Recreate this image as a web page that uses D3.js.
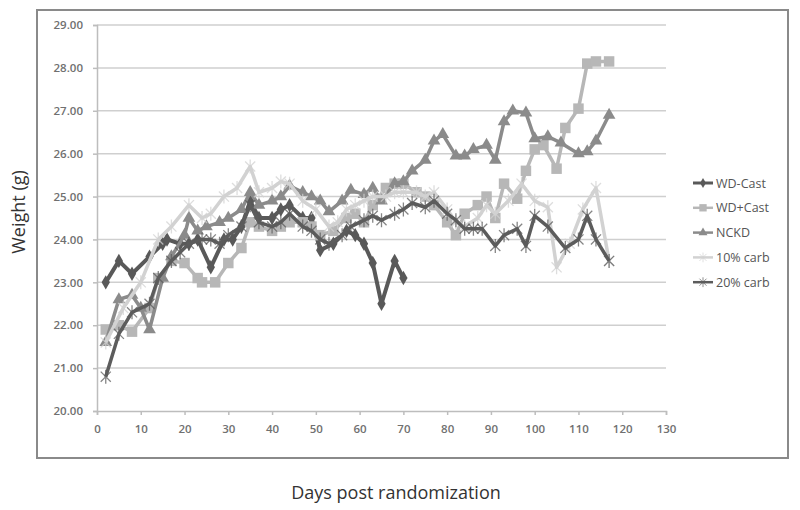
<!DOCTYPE html>
<html>
<head>
<meta charset="utf-8">
<script src="https://cdn.jsdelivr.net/npm/d3@7"></script>
<style>
  body { margin: 0; background: #fff; }
  text { font-family: "Open Sans", "DejaVu Sans", sans-serif; }
</style>
</head>
<body>
<svg width="800" height="510"></svg>
<script>
// series names
const seriesNames = ["WD-Cast", "WD+Cast", "NCKD", "10% carb", "20% carb"];

// days and weights (g) per series
const wdCastDays = [2, 5, 8, 12, 15, 16, 19, 21, 23, 26, 29, 31, 33, 35, 37, 40, 42, 44, 47, 49, 51, 54, 57, 59, 61, 63, 65, 68, 70];
const wdCastVals = [23.0, 23.5, 23.2, 23.6, 23.9, 24.0, 23.9, 23.9, 24.0, 23.35, 24.0, 24.0, 24.3, 24.9, 24.5, 24.5, 24.7, 24.8, 24.5, 24.5, 23.75, 23.9, 24.2, 24.1, 23.9, 23.45, 22.5, 23.5, 23.1];

const wdPlusDays = [2, 5, 8, 12, 14, 17, 20, 23, 24, 27, 30, 33, 35, 37, 40, 42, 44, 47, 49, 51, 54, 57, 59, 61, 63, 66, 68, 70, 73, 75, 77, 80, 82, 84, 87, 89, 91, 93, 96, 98, 100, 102, 105, 107, 110, 112, 114, 117];
const wdPlusVals = [21.9, 22.0, 21.85, 22.4, 23.1, 23.5, 23.45, 23.1, 23.0, 23.0, 23.45, 23.8, 24.4, 24.3, 24.2, 24.3, 24.4, 24.4, 24.3, 24.1, 24.2, 24.5, 24.6, 24.4, 24.8, 25.2, 25.3, 25.3, 25.1, 25.0, 24.8, 24.4, 24.1, 24.6, 24.8, 25.0, 24.5, 25.3, 24.95, 25.6, 26.1, 26.2, 25.65, 26.6, 27.05, 28.1, 28.15, 28.15];

const nckdDays = [2, 5, 8, 10, 12, 15, 17, 20, 21, 23, 25, 28, 30, 33, 35, 37, 40, 42, 44, 47, 49, 51, 53, 56, 58, 61, 63, 65, 68, 70, 72, 75, 77, 79, 82, 84, 86, 89, 91, 93, 95, 98, 100, 103, 106, 110, 112, 114, 117];
const nckdVals = [21.6, 22.6, 22.7, 22.4, 21.9, 23.1, 23.6, 24.1, 24.5, 24.2, 24.3, 24.4, 24.5, 24.7, 25.1, 24.8, 24.9, 25.0, 25.25, 25.1, 25.0, 24.9, 24.65, 24.9, 25.15, 25.05, 25.2, 24.9, 25.3, 25.35, 25.6, 25.85, 26.3, 26.45, 25.95, 25.95, 26.1, 26.2, 25.85, 26.75, 27.0, 26.95, 26.35, 26.4, 26.25, 26.0, 26.05, 26.3, 26.9];

const carb10Days = [2, 6, 10, 14, 17, 21, 24, 26, 29, 32, 35, 37, 40, 42, 44, 47, 50, 53, 55, 57, 59, 61, 63, 66, 68, 70, 73, 75, 77, 80, 82, 84, 87, 89, 91, 94, 97, 100, 103, 105, 108, 111, 114, 117];
const carb10Vals = [21.6, 22.4, 23.0, 24.0, 24.3, 24.8, 24.5, 24.6, 25.0, 25.2, 25.7, 25.1, 25.2, 25.35, 25.3, 24.9, 24.7, 24.3, 24.4, 24.7, 24.8, 24.9, 25.0, 25.0, 25.1, 25.1, 25.1, 25.0, 25.1, 24.7, 24.4, 24.3, 24.5, 24.8, 24.6, 24.9, 25.3, 24.9, 24.75, 23.35, 23.9, 24.7, 25.2, 23.5];

const carb20Days = [2, 5, 8, 12, 14, 17, 19, 21, 24, 26, 28, 30, 33, 35, 37, 40, 42, 44, 47, 49, 51, 53, 56, 58, 61, 63, 65, 68, 70, 72, 75, 77, 80, 82, 84, 86, 88, 91, 93, 96, 98, 100, 103, 107, 110, 112, 114, 117];
const carb20Vals = [20.8, 21.8, 22.3, 22.5, 23.1, 23.5, 23.7, 23.9, 24.0, 24.0, 23.9, 24.1, 24.3, 24.8, 24.4, 24.3, 24.4, 24.6, 24.3, 24.2, 24.0, 23.9, 24.1, 24.3, 24.45, 24.55, 24.45, 24.6, 24.7, 24.85, 24.75, 24.9, 24.6, 24.45, 24.25, 24.25, 24.25, 23.85, 24.1, 24.25, 23.85, 24.55, 24.3, 23.8, 24.0, 24.55, 24.0, 23.5];

const xTicks = d3.range(0, 131, 10);
const yTicks = d3.range(20, 29.01, 1);

const svg = d3.select("svg");

// outer chart frame
svg.append("rect")
  .attr("x", 37).attr("y", 10)
  .attr("width", 751).attr("height", 448)
  .attr("fill", "#fff")
  .attr("stroke", "#8a8a8a")
  .attr("stroke-width", 2);

const x = d3.scaleLinear().domain([0, 130]).range([97, 666]);
const y = d3.scaleLinear().domain([20, 29]).range([411, 25]);

// gridlines
svg.append("g").selectAll("line")
  .data(yTicks.slice(1))
  .enter().append("line")
  .attr("x1", x(0)).attr("x2", x(130))
  .attr("y1", d => y(d)).attr("y2", d => y(d))
  .attr("stroke", "#cfcfcf")
  .attr("stroke-width", 1.5);

// axes
const xAxis = svg.append("g")
  .attr("transform", `translate(0,${y(20)})`)
  .call(d3.axisBottom(x).tickValues(xTicks).tickSize(4).tickPadding(10).tickFormat(d3.format("d")));
const yAxis = svg.append("g")
  .attr("transform", `translate(${x(0)},0)`)
  .call(d3.axisLeft(y).tickValues(yTicks).tickSize(4).tickPadding(10).tickFormat(d3.format(".2f")));

[xAxis, yAxis].forEach(g => {
  g.select(".domain").attr("stroke", "#bdbdbd").attr("stroke-width", 1.5);
  g.selectAll(".tick line").attr("stroke", "#bdbdbd").attr("stroke-width", 1.5);
  g.selectAll(".tick text")
    .attr("fill", "#707070")
    .style("font-size", "11.5px")
    .style("font-weight", "600")
    .style("font-family", "'Open Sans', sans-serif");
});

// axis titles
svg.append("text")
  .attr("transform", "translate(25,212) rotate(-90)")
  .attr("text-anchor", "middle")
  .attr("fill", "#333")
  .style("font-size", "18px")
  .text("Weight (g)");
svg.append("text")
  .attr("x", 396).attr("y", 499)
  .attr("text-anchor", "middle")
  .attr("fill", "#333")
  .style("font-size", "18px")
  .text("Days post randomization");

// marker shapes
const symDiamond = d3.symbol().type(d3.symbolDiamond).size(60);
const symSquare = d3.symbol().type(d3.symbolSquare).size(110);
const symTriangle = d3.symbol().type(d3.symbolTriangle).size(70);

function starPath(r) {
  const a = r * 0.72;
  return `M${-a},${-a}L${a},${a}M${-a},${a}L${a},${-a}M0,${-r}L0,${r}`;
}

const series = [
  { name: seriesNames[0], days: wdCastDays, vals: wdCastVals, color: "#595959", width: 4, marker: "diamond" },
  { name: seriesNames[1], days: wdPlusDays, vals: wdPlusVals, color: "#b7b7b7", width: 3.5, marker: "square" },
  { name: seriesNames[2], days: nckdDays, vals: nckdVals, color: "#8b8b8b", width: 3.5, marker: "triangle" },
  { name: seriesNames[3], days: carb10Days, vals: carb10Vals, color: "#d2d2d2", width: 3.5, marker: "star" },
  { name: seriesNames[4], days: carb20Days, vals: carb20Vals, color: "#5c5c5c", width: 3.5, marker: "star" }
];

function drawMarker(g, s, cx, cy, scale) {
  const k = scale || 1;
  if (s.marker === "star") {
    g.append("path")
      .attr("transform", `translate(${cx},${cy}) scale(${k})`)
      .attr("d", starPath(7))
      .attr("fill", "none")
      .attr("stroke", s.color)
      .attr("stroke-width", 1.3)
      .attr("opacity", 0.75);
  } else {
    const sym = s.marker === "diamond" ? symDiamond : s.marker === "square" ? symSquare : symTriangle;
    g.append("path")
      .attr("transform", `translate(${cx},${cy}) scale(${k})`)
      .attr("d", sym())
      .attr("fill", s.color);
  }
}

const line = d3.line().x(d => x(d[0])).y(d => y(d[1]));

series.forEach(s => {
  const pts = d3.zip(s.days, s.vals);
  const g = svg.append("g");
  g.append("path")
    .datum(pts)
    .attr("d", line)
    .attr("fill", "none")
    .attr("stroke", s.color)
    .attr("stroke-width", s.width)
    .attr("stroke-linejoin", "round");
  pts.forEach(p => drawMarker(g, s, x(p[0]), y(p[1])));
});

// legend
const legend = svg.append("g");
series.forEach((s, i) => {
  const ly = 183 + i * 24.8;
  legend.append("line")
    .attr("x1", 693).attr("x2", 713)
    .attr("y1", ly).attr("y2", ly)
    .attr("stroke", s.color)
    .attr("stroke-width", s.marker === "diamond" ? 3 : 2.5);
  drawMarker(legend, s, 703, ly, 0.7);
  legend.append("text")
    .attr("x", 716).attr("y", ly + 4.5)
    .attr("fill", "#555")
    .style("font-size", "12.5px")
    .text(s.name);
});
</script>
</body>
</html>
